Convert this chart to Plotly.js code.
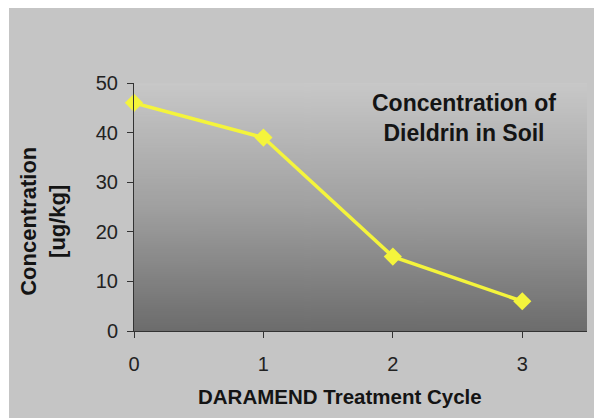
<!DOCTYPE html>
<html>
<head>
<meta charset="utf-8">
<script src="https://cdn.plot.ly/plotly-3.0.1.min.js"></script>
<style>
html,body{margin:0;padding:0;background:#ffffff;width:594px;height:418px;overflow:hidden;}
#chart{position:absolute;left:9px;top:8px;width:585px;height:410px;}
</style>
</head>
<body>
<div id="chart"></div>
<script>
const cycles = [0, 1, 2, 3];
const concentration = [46, 39, 15, 6];
const xTickVals = [0, 1, 2, 3];
const yTickVals = [0, 10, 20, 30, 40, 50];

// vertical gradient for the plot background
const cv = document.createElement('canvas');
cv.width = 4; cv.height = 256;
const ctx = cv.getContext('2d');
const g = ctx.createLinearGradient(0, 0, 0, 256);
g.addColorStop(0, '#c8c8c8');
g.addColorStop(0.5, '#a0a0a0');
g.addColorStop(1, '#6c6c6c');
ctx.fillStyle = g;
ctx.fillRect(0, 0, 4, 256);
const bgURL = cv.toDataURL('image/png');

const font = 'Liberation Sans, Arial, Helvetica, sans-serif';

const trace = {
  x: cycles,
  y: concentration,
  type: 'scatter',
  mode: 'lines+markers',
  line: {color: '#f4f43c', width: 3.5},
  marker: {symbol: 'diamond', size: 14, color: '#f4f43c'},
  cliponaxis: false,
  hoverinfo: 'skip'
};

const layout = {
  width: 585,
  height: 410,
  margin: {l: 125, r: 7, t: 75, b: 87},
  paper_bgcolor: '#c5c5c5',
  plot_bgcolor: 'rgba(0,0,0,0)',
  showlegend: false,
  font: {family: font, color: '#1e1e1e', size: 16},
  xaxis: {
    range: [0, 3.5],
    tickvals: xTickVals,
    ticktext: xTickVals.map(String),
    ticks: 'outside', ticklen: 6, tickwidth: 1, tickcolor: '#333',
    showline: true, linecolor: '#333', linewidth: 1,
    showgrid: false, zeroline: false,
    ticklabelstandoff: 9,
    tickfont: {family: font, size: 20, color: '#222'},
    fixedrange: true
  },
  yaxis: {
    range: [0, 50],
    tickvals: yTickVals,
    ticktext: yTickVals.map(String),
    ticks: 'outside', ticklen: 6, tickwidth: 1, tickcolor: '#333',
    showline: true, linecolor: '#333', linewidth: 1,
    showgrid: false, zeroline: false,
    ticklabelstandoff: 5,
    tickfont: {family: font, size: 20, color: '#222'},
    fixedrange: true
  },
  images: [{
    source: bgURL, xref: 'paper', yref: 'paper',
    x: 0, y: 1, sizex: 1, sizey: 1,
    sizing: 'stretch', xanchor: 'left', yanchor: 'top', layer: 'below'
  }],
  annotations: [
    {
      text: '<b>Concentration of<br>Dieldrin in Soil</b>',
      xref: 'x', yref: 'y', x: 2.55, y: 42.9,
      xanchor: 'center', yanchor: 'middle',
      showarrow: false, align: 'center',
      font: {family: font, size: 23, color: '#141414'}
    },
    {
      text: '<b>DARAMEND Treatment Cycle</b>',
      xref: 'x', yref: 'paper', x: 1.59, y: -0.265,
      xanchor: 'center', yanchor: 'middle',
      showarrow: false,
      font: {family: font, size: 20.5, color: '#141414'}
    },
    {
      text: '<b>Concentration<br>[ug/kg]</b>',
      xref: 'paper', yref: 'paper', x: -0.201, y: 0.444,
      xanchor: 'center', yanchor: 'middle',
      textangle: -90, showarrow: false, align: 'center',
      font: {family: font, size: 22, color: '#141414'}
    }
  ]
};

Plotly.newPlot('chart', [trace], layout, {displayModeBar: false, staticPlot: true});
</script>
</body>
</html>
